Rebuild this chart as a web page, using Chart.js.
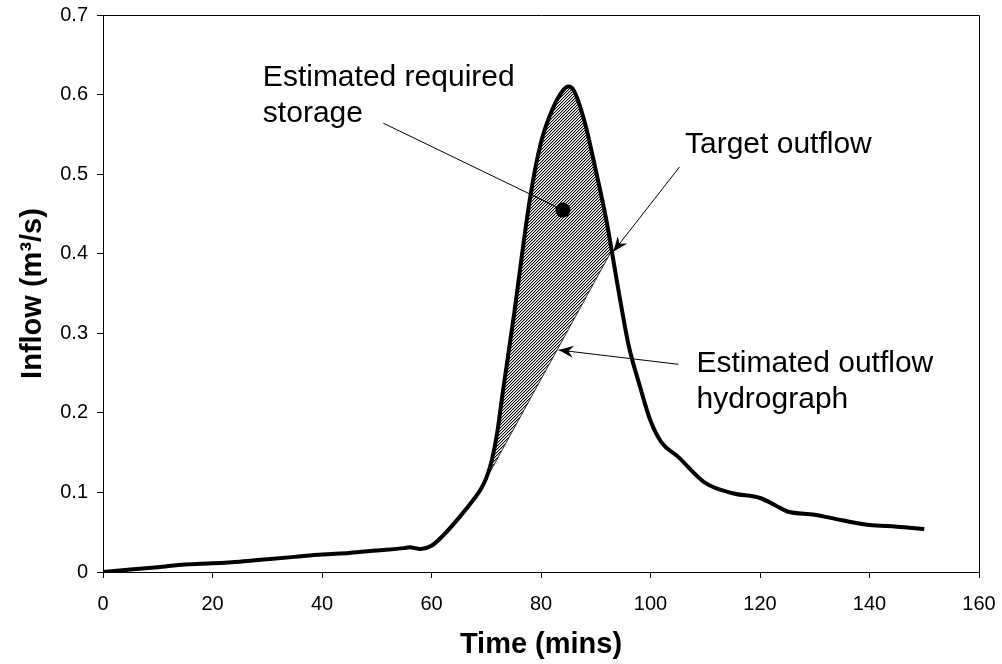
<!DOCTYPE html>
<html>
<head>
<meta charset="utf-8">
<script src="https://cdn.jsdelivr.net/npm/chart.js@4/dist/chart.umd.min.js"></script>
<style>
  html, body { margin: 0; padding: 0; background: #fff; }
  #wrap { width: 1002px; height: 664px; }
</style>
</head>
<body>
<div id="wrap"><canvas id="c" width="1002" height="664"></canvas></div>
<script>
// ---- data ----
const inflowTime = [0, 5, 10, 15, 20, 25, 30, 35, 40, 45, 50, 55, 56, 58, 60, 62, 65, 68, 69, 70, 71, 72, 73, 75, 78, 80, 82, 84, 85, 86, 88, 90, 92, 94, 96, 98, 100, 102, 105, 110, 115, 120, 123, 125, 130, 135, 140, 145, 150];
const inflowValue = [0, 0.003, 0.006, 0.0095, 0.011, 0.013, 0.016, 0.019, 0.022, 0.024, 0.027, 0.030, 0.031, 0.029, 0.033, 0.045, 0.068, 0.094, 0.104, 0.118, 0.14, 0.175, 0.225, 0.32, 0.47, 0.54, 0.58, 0.605, 0.61, 0.605, 0.565, 0.505, 0.44, 0.36, 0.285, 0.235, 0.19, 0.163, 0.145, 0.112, 0.099, 0.093, 0.083, 0.076, 0.072, 0.065, 0.059, 0.057, 0.054];
const outflowTime = [70.4, 93.0];
const outflowValue = [0.122, 0.405];
const storageMarkerTime = [84.0];
const storageMarkerValue = [0.455];
const xTickLabels = ['0', '20', '40', '60', '80', '100', '120', '140', '160'];
const yTickLabels = ['0', '0.1', '0.2', '0.3', '0.4', '0.5', '0.6', '0.7'];
const xTitle = 'Time (mins)';
const yTitle = 'Inflow (m\u00B3/s)';

// annotation texts and their anchors (data units)
const notes = [
  { lines: ['Estimated required', 'storage'], x: 29.2, y: [0.611, 0.566] },
  { lines: ['Target outflow'], x: 106.3, y: [0.526] },
  { lines: ['Estimated outflow', 'hydrograph'], x: 108.4, y: [0.2515, 0.206] }
];
const leaders = [
  { from: [51.2, 0.564], to: [84.0, 0.455], arrow: false },
  { from: [105.3, 0.509], to: [93.2, 0.4025], arrow: true },
  { from: [105.1, 0.261], to: [83.2, 0.279], arrow: true }
];

const zip = (xs, ys) => xs.map((x, i) => ({ x: x, y: ys[i] }));

// hatch pattern (fine upward diagonal lines)
function makeHatch() {
  const c = document.createElement('canvas');
  c.width = 3; c.height = 3;
  const g = c.getContext('2d');
  g.fillStyle = '#fff';
  g.fillRect(0, 0, 3, 3);
  for (let x = 0; x < 3; x++) {
    for (let y = 0; y < 3; y++) {
      const k = (x + y) % 3;
      if (k === 0) { g.fillStyle = '#000'; g.fillRect(x, y, 1, 1); }
      else if (k === 1) { g.fillStyle = '#b4b4b4'; g.fillRect(x, y, 1, 1); }
    }
  }
  return g.createPattern(c, 'repeat');
}
const hatch = makeHatch();

const FONT = "'Liberation Sans', Arial, sans-serif";

const annotPlugin = {
  id: 'annot',
  afterDatasetsDraw(chart) {
    const ctx = chart.ctx;
    const xs = chart.scales.x, ys = chart.scales.y;
    const P = (x, y) => [xs.getPixelForValue(x), ys.getPixelForValue(y)];
    const a = chart.chartArea;
    ctx.save();
    // box around plot area (top and right sides)
    ctx.strokeStyle = '#000';
    ctx.lineWidth = 1;
    ctx.beginPath();
    ctx.moveTo(Math.round(a.left) + 0.5, Math.round(a.top) + 0.5);
    ctx.lineTo(Math.round(a.right) + 0.5, Math.round(a.top) + 0.5);
    ctx.lineTo(Math.round(a.right) + 0.5, Math.round(a.bottom) + 0.5);
    ctx.stroke();

    // leader lines
    leaders.forEach(l => {
      const [x1, y1] = P(l.from[0], l.from[1]);
      const [x2, y2] = P(l.to[0], l.to[1]);
      ctx.strokeStyle = '#000';
      ctx.lineWidth = 1;
      ctx.beginPath();
      ctx.moveTo(x1, y1);
      ctx.lineTo(x2, y2);
      ctx.stroke();
      if (l.arrow) {
        const ang = Math.atan2(y2 - y1, x2 - x1);
        const len = 15, half = 6, notch = 10;
        const bx = x2 - Math.cos(ang) * len, by = y2 - Math.sin(ang) * len;
        const nx = x2 - Math.cos(ang) * notch, ny = y2 - Math.sin(ang) * notch;
        const px = -Math.sin(ang), py = Math.cos(ang);
        ctx.fillStyle = '#000';
        ctx.beginPath();
        ctx.moveTo(x2, y2);
        ctx.lineTo(bx + px * half, by + py * half);
        ctx.lineTo(nx, ny);
        ctx.lineTo(bx - px * half, by - py * half);
        ctx.closePath();
        ctx.fill();
      }
    });

    // texts
    ctx.fillStyle = '#000';
    ctx.font = '30px ' + FONT;
    ctx.textAlign = 'left';
    ctx.textBaseline = 'alphabetic';
    notes.forEach(n => {
      n.lines.forEach((t, i) => {
        const [px, py] = P(n.x, n.y[i]);
        ctx.fillText(t, px, py);
      });
    });
    ctx.restore();
  }
};

const zeroPad = s => { s.paddingLeft = 0; s.paddingRight = 0; s.paddingTop = 0; s.paddingBottom = 0; };

new Chart(document.getElementById('c'), {
  type: 'scatter',
  data: {
    datasets: [
      {
        label: 'Inflow',
        data: zip(inflowTime, inflowValue),
        showLine: true,
        borderColor: '#000',
        borderWidth: 4,
        pointRadius: 0,
        cubicInterpolationMode: 'monotone',
        fill: false,
        order: 0
      },
      {
        label: 'Target outflow',
        data: zip(outflowTime, outflowValue),
        showLine: true,
        borderColor: '#333',
        borderWidth: 1,
        pointRadius: 0,
        backgroundColor: hatch,
        fill: { target: 0, above: hatch, below: hatch },
        order: 1
      },
      {
        label: 'Estimated required storage',
        data: zip(storageMarkerTime, storageMarkerValue),
        showLine: false,
        pointRadius: 7.5,
        pointBackgroundColor: '#000',
        pointBorderColor: '#000',
        pointBorderWidth: 0,
        order: -1
      }
    ]
  },
  options: {
    responsive: false,
    animation: false,
    events: [],
    layout: { padding: { left: 0, right: 23, top: 15, bottom: 0 } },
    plugins: { legend: { display: false }, tooltip: { enabled: false } },
    scales: {
      x: {
        type: 'linear', min: 0, max: 160,
        ticks: {
          stepSize: 20, color: '#000', padding: 14, maxRotation: 0, autoSkip: false,
          font: { family: FONT, size: 20 },
          callback: (v, i) => xTickLabels[i]
        },
        grid: { drawOnChartArea: false, drawTicks: true, tickLength: 6, color: '#000', lineWidth: 1 },
        border: { color: '#000', width: 1 },
        title: { display: true, text: xTitle, color: '#000', font: { family: FONT, size: 29, weight: 'bold' }, padding: { top: 0, bottom: 2 } },
        afterFit: s => { s.height = 92; zeroPad(s); }
      },
      y: {
        type: 'linear', min: 0, max: 0.7,
        ticks: {
          stepSize: 0.1, color: '#000', padding: 9, autoSkip: false,
          font: { family: FONT, size: 20 },
          callback: (v, i) => yTickLabels[i]
        },
        grid: { drawOnChartArea: false, drawTicks: true, tickLength: 6, color: '#000', lineWidth: 1 },
        border: { color: '#000', width: 1 },
        title: { display: true, text: yTitle, color: '#000', font: { family: FONT, size: 29, weight: 'bold' }, padding: { top: 16, bottom: 0 } },
        afterFit: s => { s.width = 103; zeroPad(s); }
      }
    }
  },
  plugins: [annotPlugin]
});
</script>
</body>
</html>
